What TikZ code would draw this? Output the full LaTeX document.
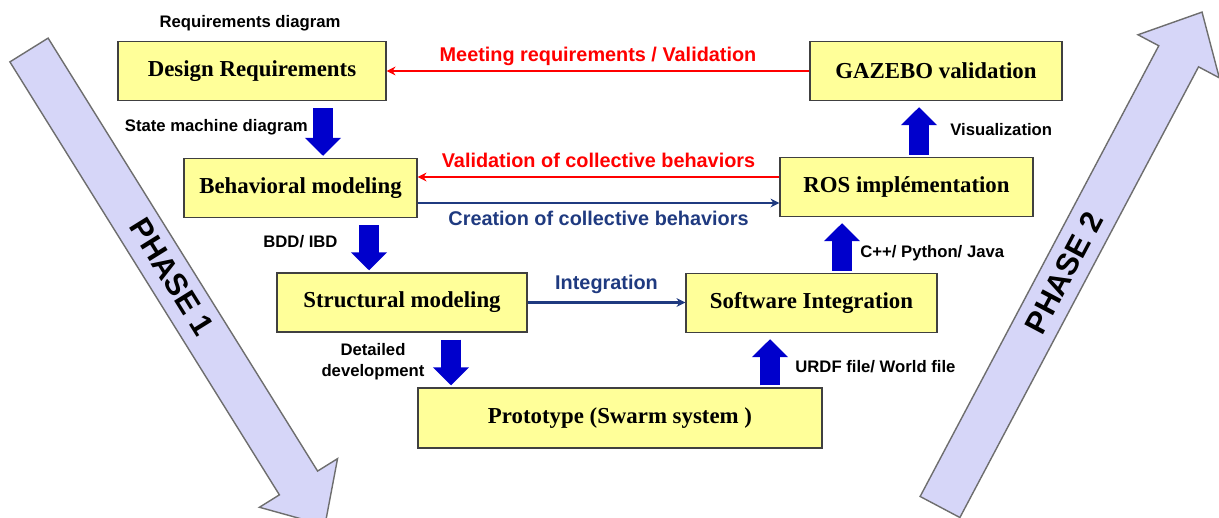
\documentclass[tikz,border=0pt]{standalone}
\usepackage{fontspec}
\setmainfont{Liberation Serif}
\setsansfont{Liberation Sans}
\usepackage{xcolor}
\usetikzlibrary{arrows.meta,positioning}
\definecolor{boxYellow}{HTML}{FFFF99}
\definecolor{phLilac}{HTML}{D6D6F8}
\definecolor{phGrey}{HTML}{6E6E6E}
\definecolor{arBlue}{HTML}{0000CC}
\definecolor{lnRed}{HTML}{FF0000}
\definecolor{lnNavy}{HTML}{1F3A80}

\begin{document}
\begin{tikzpicture}[x=0.02cm,y=-0.02cm]
    \tikzset{
        box/.style={draw=black!75,line width=0.8pt,fill=boxYellow,minimum height=1.18cm,inner sep=0pt,font=\fontsize{13}{15}\selectfont\bfseries},
        lbl/.style={font=\sffamily\fontsize{9.5}{12}\selectfont\bfseries,inner sep=0pt},
        clbl/.style={font=\sffamily\fontsize{11.3}{13}\selectfont\bfseries,inner sep=0pt,anchor=base},
        phtxt/.style={font=\sffamily\fontsize{17.5}{20}\selectfont\bfseries,inner sep=0pt},
        fat/.style={arBlue,line width=0.4cm,-{Triangle[length=0.36cm,width=0.7cm]}},
        fatdown/.style={fat,shorten <=0.14cm,shorten >=0.04cm},
        fatup/.style={fat,shorten <=0.04cm,shorten >=0.12cm},
        redline/.style={lnRed,line width=1.1pt,-{Stealth[length=5pt,width=5pt]}},
        navyline/.style={lnNavy,line width=1.2pt,-{Stealth[length=5pt,width=5pt]}},
        phasearrow/.pic={
            \filldraw[phLilac,draw=phGrey,line width=0.8pt] (0,-22.5) --++(510,0)--++(0,-23.5)--(560,0)--(510,46)--++(0,-23.5)--(0,22.5)--cycle;
        }
    };
    \useasboundingbox (0,0) rectangle (1219,517);
    \draw (29,50) pic[rotate=-58.1] {phasearrow};
    \draw (940,507) pic[rotate=62.1] {phasearrow};
    \node[phtxt,rotate=-58.1] (ph1) at (172,277) {PHASE 1};
    \node[phtxt,rotate=62.1] (ph2) at (1064,273) {PHASE 2};

    \node[box,minimum width=5.36cm] (dr) at (252,71) {Design Requirements};
    \node[box,minimum width=5.04cm] (gz) at (936,71) {GAZEBO validation};
    \node[box,minimum width=4.66cm] (beh) at (300.5,188) {Behavioral modeling};
    \node[box,minimum width=5.06cm] (ros) at (906.5,187) {ROS implémentation};
    \node[box,minimum width=5cm] (str) at (402,302.5) {Structural modeling};
    \node[box,minimum width=5.02cm] (sw) at (811.5,303) {Software Integration};
    \node[box,minimum width=8.08cm,minimum height=1.2cm] (proto) at (620,418) {Prototype (Swarm system )};

    \draw[fatdown] (dr.south -| 323,0) -- (beh.north -| 323,0);
    \draw[fatdown] (beh.south -| 369,0) -- (str.north -| 369,0);
    \draw[fatdown] (str.south -| 451,0) -- (proto.north -| 451,0);
    \draw[fatup] (proto.north -| 770,0) -- (sw.south -| 770,0);
    \draw[fatup] (sw.north -| 842,0) -- (ros.south -| 842,0);
    \draw[fatup] (ros.north -| 919,0) -- (gz.south -| 919,0);

    \draw[redline] (gz.west) -- node[clbl,lnRed,yshift=0.2cm] {Meeting requirements / Validation} (dr.east);
    \draw[redline] (ros.west |- 0,177) -- node[clbl,lnRed,yshift=0.2cm] {Validation of collective behaviors} (beh.east |- 0,177);
    \draw[navyline] (beh.east |- 0,203) -- node[clbl,lnNavy,yshift=-0.46cm] {Creation of collective behaviors} (ros.west |- 0,203);
    \draw[navyline] (str.east) -- node[clbl,lnNavy,yshift=0.26cm] {Integration} (str.east -| sw.west);

    \node[lbl] (reqd) at (250,23) {Requirements diagram};
    \node[lbl,anchor=east] (smd) at (308,127) {State machine diagram};
    \node[lbl,anchor=west] (bdd) at (263,242) {BDD/ IBD};
    \node[lbl,align=center] (dev) at (373,362) {Detailed\\development};
    \node[lbl,anchor=west] (urdf) at (795,367) {URDF file/ World file};
    \node[lbl,anchor=west] (cpp) at (860,253) {C++/ Python/ Java};
    \node[lbl,anchor=west] (vis) at (950,130) {Visualization};
\end{tikzpicture}
\end{document}
